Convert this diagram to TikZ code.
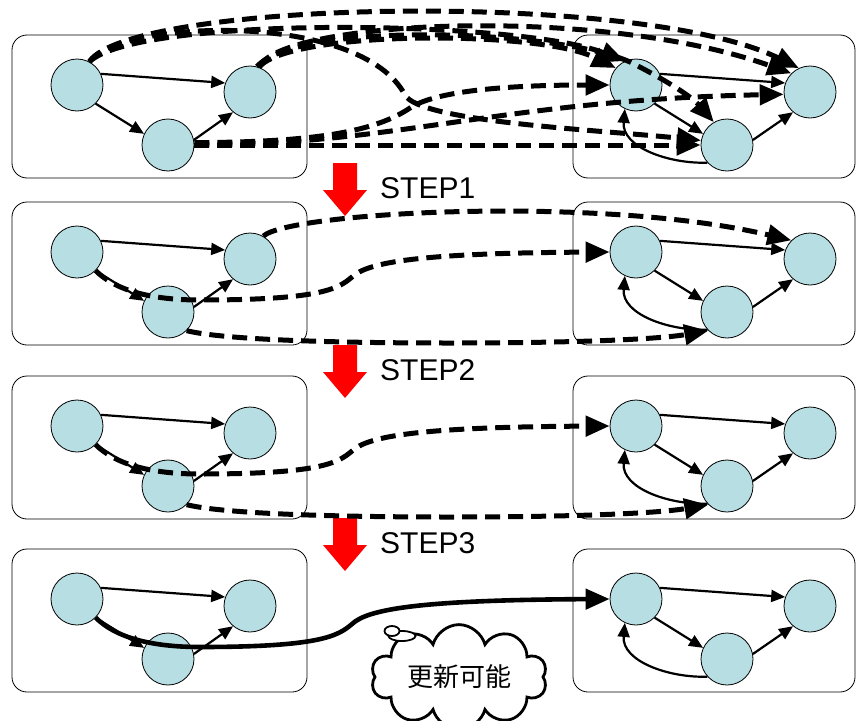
\documentclass[tikz,border=0pt]{standalone}
\usepackage{fontspec}
\setmainfont{Liberation Sans}
\newfontfamily\cjkfont{Noto Sans CJK JP}
\usepackage{tikz}
\usetikzlibrary{arrows.meta,shapes.symbols,shapes.geometric,positioning}

\definecolor{vtxfill}{RGB}{183,222,226}
\tikzset{
  vtx/.style = {circle, draw, fill = vtxfill, minimum size = 52pt, inner sep = 0pt, line width = 0.8pt},
  panelbox/.style = {draw, rounded corners = 15pt, line width = 0.8pt},
  gedge/.style = {-{Triangle[length = 14pt, width = 12pt]}, line width = 2.2pt},
  mapline/.style = {-{Triangle[length = 24pt, width = 20pt]}, line width = 5pt, dash pattern = on 15pt off 8pt},
  mapsolid/.style = {-{Triangle[length = 24pt, width = 20pt]}, line width = 4.6pt},
  steplabel/.style = {anchor = west, inner sep = 0pt, font = \fontsize{30}{30}\selectfont},
  thought/.style = {cloud, draw, fill = white, cloud puffs = 10, aspect = 2.2, line width = 2.8pt, minimum width = 176pt, minimum height = 78pt, font = \cjkfont\fontsize{26}{26}\selectfont},
  bubble/.style = {ellipse, draw, fill = white, line width = 1.8pt, inner sep = 0pt}
}

\begin{document}
\begin{tikzpicture}[x = 1pt, y = -1pt]
\useasboundingbox (0,0) rectangle (856,720);

% four panels: left graph, right graph
\foreach \p/\dy in {1/0, 2/167, 3/341, 4/514} {
  \draw[panelbox] (12,35+\dy) rectangle (307,178+\dy);
  \draw[panelbox] (573,35+\dy) rectangle (855,178+\dy);
  \node[vtx] (a\p) at (77,85+\dy) {};
  \node[vtx] (b\p) at (168,145+\dy) {};
  \node[vtx] (c\p) at (250,92+\dy) {};
  \node[vtx] (d\p) at (636,85+\dy) {};
  \node[vtx] (e\p) at (727,145+\dy) {};
  \node[vtx] (f\p) at (810,92+\dy) {};
  \draw[gedge] (a\p.25) -- (c\p.160);
  \draw[gedge] (a\p.-45) -- (b\p.155);
  \draw[gedge] (b\p.11) -- (c\p.230);
  \draw[gedge] (d\p.25) -- (f\p.160);
  \draw[gedge] (d\p.-45) -- (e\p.155);
  \draw[gedge] (e\p.11) -- (f\p.230);
  \draw[gedge] (e\p.222) to[out = 182, in = -95] (d\p.245);
}

% red step arrows
\foreach \s/\ty in {1/163, 2/345, 3/518} {
  \fill[red] (333,\ty) -- ++(24,0) -- ++(0,27) -- ++(10,0) -- ++(-22,26) -- ++(-22,-26) -- ++(10,0) -- cycle;
  \node[steplabel] (st\s) at (380,\ty+25.5) {STEP\s};
}

% panel 1: every candidate mapping
\draw[mapline] (a1.62) .. controls (130,0) and (640,-10) .. (f1.115);
\draw[mapline] (c1.70) .. controls (280,20) and (600,5) .. (f1.135);
\draw[mapline] (a1.62) .. controls (140,15) and (520,20) .. (d1.115);
\draw[mapline] (c1.70) .. controls (290,30) and (540,30) .. (d1.140);
\draw[mapline] (a1.62) .. controls (120,20) and (360,10) .. (405,95) .. controls (420,122) and (600,130) .. (e1.170);
\draw[mapline] (c1.75) .. controls (300,20) and (560,30) .. (630,62) .. controls (660,77) and (690,95) .. (e1.120);
\draw[mapline] (b1.5) .. controls (300,142) and (370,135) .. (410,108) .. controls (440,88) and (530,85) .. (d1.180);
\draw[mapline] (b1.0) .. controls (400,145) and (500,100) .. (f1.185);
\draw[mapline] (b1.0) -- (e1.180);

% panel 2
\draw[mapline] (c2.60) .. controls (290,212) and (600,195) .. (f2.135);
\draw[mapline] (a2.-45) .. controls (115,290) and (150,300) .. (200,300) .. controls (320,300) and (338,289) .. (352,277) .. controls (368,262) and (420,253) .. (d2.180);
\draw[mapline] (b2.-45) .. controls (220,339) and (320,343) .. (450,343) .. controls (580,343) and (660,339) .. (e2.225);

% panel 3
\draw[mapline] (a3.-45) .. controls (115,464) and (150,474) .. (200,474) .. controls (320,474) and (338,463) .. (352,451) .. controls (368,436) and (420,427) .. (d3.180);
\draw[mapline] (b3.-45) .. controls (220,513) and (320,517) .. (450,517) .. controls (580,517) and (660,513) .. (e3.225);

% panel 4
\draw[mapsolid] (a4.-45) .. controls (115,637) and (150,647) .. (200,647) .. controls (320,647) and (338,636) .. (352,624) .. controls (368,609) and (420,600) .. (d4.180);
\node[thought] (cl) at (459,677) {更新可能};
\node[bubble, minimum width = 27pt, minimum height = 10pt] (bb2) at (402,636) {};
\node[bubble, minimum width = 15pt, minimum height = 10pt] (bb1) at (392,631) {};
\end{tikzpicture}
\end{document}
